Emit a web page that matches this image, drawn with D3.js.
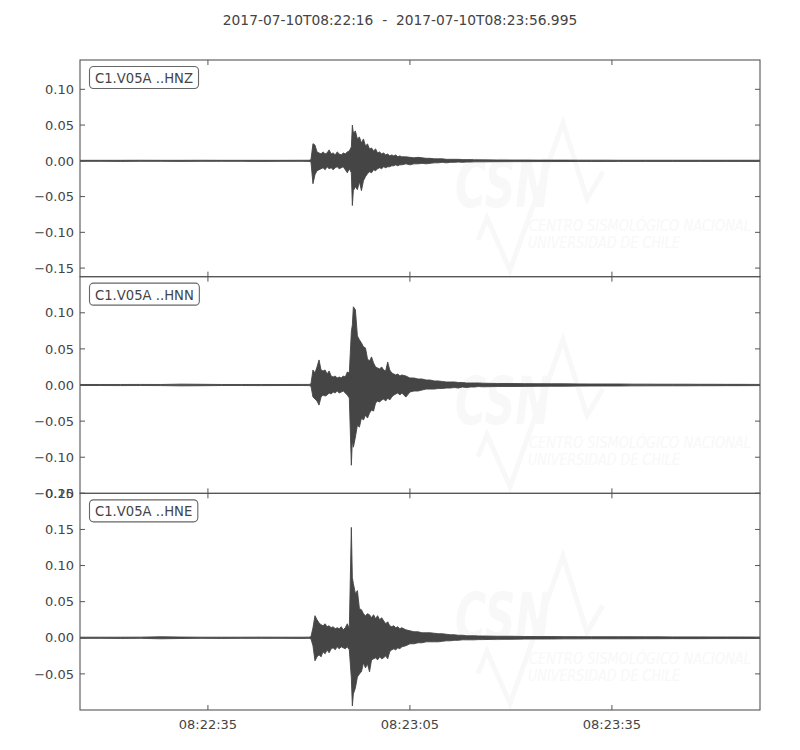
<!DOCTYPE html>
<html>
<head>
<meta charset="utf-8">
<script src="https://cdn.jsdelivr.net/npm/d3@7"></script>
<style>
  html, body { margin: 0; padding: 0; background: #fff; }
  svg { display: block; }
  text { font-family: "DejaVu Sans", sans-serif; fill: #444; }
</style>
</head>
<body>
<svg id="chart" width="800" height="750"></svg>
<script>
// ---------------- DATA ----------------
const titleText = "2017-07-10T08:22:16  -  2017-07-10T08:23:56.995";
const startTime = "2017-07-10T08:22:16.000Z";
const endTime = "2017-07-10T08:23:56.995Z";
const channels = ["C1.V05A ..HNZ", "C1.V05A ..HNN", "C1.V05A ..HNE"];
const xTickLabels = ["08:22:35", "08:23:05", "08:23:35"];
const xTickTimes = ["2017-07-10T08:22:35Z", "2017-07-10T08:23:05Z", "2017-07-10T08:23:35Z"];

// y ranges of each panel
const yDomainHNZ = [-0.162, 0.141];
const yDomainHNN = [-0.15, 0.15];
const yDomainHNE = [-0.10, 0.20];
const yTicksHNZ = [-0.15, -0.10, -0.05, 0.00, 0.05, 0.10];
const yTicksHNN = [-0.15, -0.10, -0.05, 0.00, 0.05, 0.10];
const yTicksHNE = [-0.05, 0.00, 0.05, 0.10, 0.15, 0.20];

// sample times (seconds after 08:22:16)
const times = [
  0, 3, 6, 9, 12, 15, 18, 21, 24, 27, 30, 33, 34.0,
  34.3, 34.6, 34.9, 35.2, 35.5, 35.8, 36.1, 36.4, 36.7, 37.0,
  37.3, 37.6, 37.9, 38.2, 38.5, 38.8, 39.1, 39.4, 39.7, 40.0,
  40.3, 40.45, 40.6, 40.9, 41.2, 41.5, 41.8, 42.1, 42.4, 42.7,
  43.0, 43.3, 43.6, 43.9, 44.2, 44.5, 44.8, 45.1, 45.4, 45.7,
  46.0, 46.3, 46.6, 46.9, 47.2, 47.5, 47.8,
  48.4, 49.0, 49.6, 50.2, 50.8, 51.4, 52.0, 52.6, 53.2, 53.8,
  54.4, 55.0, 55.6, 56.2, 56.8, 57.4, 58.0, 58.6, 59.2, 59.8,
  62, 64, 66, 68, 70, 72, 74, 76, 78, 80,
  82, 84, 86, 88, 90, 92, 94, 96, 98, 100.995
];

// upper / lower envelope of each trace
const hnzHi = [
  0.0007, 0.0007, 0.0007, 0.0008, 0.0007, 0.0007, 0.0008, 0.0007, 0.0007, 0.0007, 0.0007, 0.0008, 0.0008,
  0.0014, 0.024, 0.022, 0.0125, 0.011, 0.0097, 0.0125, 0.0097, 0.011, 0.0153,
  0.0097, 0.011, 0.0083, 0.0125, 0.0097, 0.0083, 0.011, 0.0097, 0.0125, 0.0139,
  0.0194, 0.050, 0.039, 0.0417, 0.0306, 0.0333, 0.025, 0.0306, 0.0208, 0.0236,
  0.0167, 0.018, 0.0139, 0.0167, 0.011, 0.0125, 0.0097, 0.011, 0.0083, 0.0097,
  0.0069, 0.0083, 0.0069, 0.0083, 0.0056, 0.0069, 0.0056,
  0.0056, 0.0049, 0.0042, 0.0049, 0.0042, 0.0035, 0.0035, 0.0028, 0.0028, 0.0028,
  0.0021, 0.0021, 0.0021, 0.0021, 0.0017, 0.0017, 0.0017, 0.0014, 0.0014, 0.0014,
  0.0012, 0.0011, 0.0011, 0.001, 0.001, 0.001, 0.0009, 0.0009, 0.0009, 0.0008,
  0.0008, 0.0008, 0.0008, 0.0008, 0.0008, 0.0008, 0.0008, 0.0008, 0.0008, 0.0008
];
const hnzLo = [
  -0.0007, -0.0007, -0.0008, -0.0007, -0.0007, -0.0008, -0.0007, -0.0007, -0.0007, -0.0008, -0.0007, -0.0007, -0.0008,
  -0.0014, -0.032, -0.0194, -0.0139, -0.0125, -0.011, -0.0097, -0.0125, -0.0083, -0.011,
  -0.0097, -0.0125, -0.0097, -0.0083, -0.011, -0.0097, -0.0083, -0.0125, -0.0167, -0.011,
  -0.0167, -0.0625, -0.0417, -0.0361, -0.0403, -0.0292, -0.0417, -0.0278, -0.0222, -0.018,
  -0.0153, -0.0167, -0.0125, -0.0139, -0.011, -0.0097, -0.011, -0.0083, -0.0097, -0.0083,
  -0.0083, -0.0069, -0.0069, -0.0056, -0.0069, -0.0056, -0.0056,
  -0.0042, -0.0056, -0.0042, -0.0042, -0.0035, -0.0042, -0.0035, -0.0028, -0.0028, -0.0021,
  -0.0028, -0.0021, -0.0021, -0.0017, -0.0021, -0.0017, -0.0017, -0.0014, -0.0014, -0.0014,
  -0.0012, -0.0011, -0.0011, -0.001, -0.001, -0.001, -0.0009, -0.0009, -0.0009, -0.0008,
  -0.0008, -0.0008, -0.0008, -0.0008, -0.0008, -0.0008, -0.0008, -0.0008, -0.0008, -0.0008
];

const hnnHi = [
  0.0007, 0.0007, 0.0007, 0.0008, 0.0007, 0.0012, 0.0010, 0.0007, 0.0007, 0.0007, 0.0007, 0.0008, 0.0008,
  0.0014, 0.0208, 0.0167, 0.025, 0.0347, 0.0208, 0.0194, 0.0208, 0.0153, 0.0194,
  0.0125, 0.011, 0.0125, 0.0097, 0.011, 0.0097, 0.0125, 0.011, 0.018, 0.0167,
  0.0736, 0.0833, 0.1083, 0.1042, 0.068, 0.0625, 0.0583, 0.0528, 0.0514, 0.0361,
  0.0333, 0.0389, 0.0306, 0.025, 0.0236, 0.0222, 0.025, 0.0208, 0.0194, 0.0319,
  0.0208, 0.0167, 0.0153, 0.0139, 0.0153, 0.0125, 0.0139,
  0.0125, 0.0097, 0.0097, 0.0083, 0.0083, 0.0069, 0.0069, 0.0056, 0.0056, 0.0049,
  0.0042, 0.0042, 0.0042, 0.0035, 0.0035, 0.0028, 0.0028, 0.0028, 0.0028, 0.0025,
  0.0021, 0.0021, 0.0019, 0.0018, 0.0017, 0.0017, 0.0015, 0.0014, 0.0014, 0.0014,
  0.0012, 0.0012, 0.0011, 0.0011, 0.0011, 0.001, 0.001, 0.0009, 0.0009, 0.0008
];
const hnnLo = [
  -0.0007, -0.0007, -0.0008, -0.0007, -0.0008, -0.0012, -0.0010, -0.0007, -0.0007, -0.0008, -0.0007, -0.0007, -0.0008,
  -0.0014, -0.0167, -0.0194, -0.0222, -0.0278, -0.0167, -0.0139, -0.0153, -0.0139, -0.011,
  -0.0125, -0.0097, -0.011, -0.0083, -0.011, -0.0097, -0.0083, -0.011, -0.0139, -0.018,
  -0.1111, -0.0764, -0.0861, -0.0722, -0.0556, -0.0583, -0.0458, -0.0486, -0.0417, -0.0458,
  -0.0389, -0.0347, -0.0361, -0.025, -0.0222, -0.0236, -0.0208, -0.0194, -0.0222, -0.018,
  -0.0208, -0.0167, -0.0139, -0.0125, -0.011, -0.0139, -0.011,
  -0.0167, -0.0097, -0.0083, -0.0083, -0.0069, -0.0056, -0.0056, -0.0056, -0.0049, -0.0049,
  -0.0042, -0.0042, -0.0035, -0.0042, -0.0028, -0.0035, -0.0028, -0.0028, -0.0021, -0.0025,
  -0.0021, -0.0021, -0.0019, -0.0018, -0.0017, -0.0017, -0.0015, -0.0014, -0.0014, -0.0014,
  -0.0012, -0.0012, -0.0011, -0.0011, -0.0011, -0.001, -0.001, -0.0009, -0.0009, -0.0008
];

const hneHi = [
  0.0008, 0.0008, 0.0008, 0.0009, 0.0014, 0.0010, 0.0008, 0.0008, 0.0008, 0.0009, 0.0008, 0.0008, 0.0009,
  0.0014, 0.0139, 0.0306, 0.025, 0.0208, 0.018, 0.0167, 0.0194, 0.0153, 0.0167,
  0.0139, 0.0153, 0.0125, 0.0139, 0.0125, 0.0153, 0.011, 0.0139, 0.0194, 0.0125,
  0.1528, 0.0833, 0.075, 0.0611, 0.0653, 0.0403, 0.0389, 0.0333, 0.0306, 0.0333,
  0.0319, 0.0278, 0.0319, 0.0264, 0.0306, 0.025, 0.0278, 0.0236, 0.0194, 0.0222,
  0.0167, 0.0153, 0.0167, 0.0139, 0.0153, 0.0125, 0.0139,
  0.011, 0.0097, 0.0083, 0.0083, 0.0069, 0.0069, 0.0069, 0.0063, 0.0056, 0.0056,
  0.0049, 0.0042, 0.0042, 0.0035, 0.0035, 0.0028, 0.0028, 0.0028, 0.0025, 0.0025,
  0.0021, 0.0021, 0.0018, 0.0017, 0.0017, 0.0015, 0.0015, 0.0014, 0.0014, 0.0014,
  0.0014, 0.0013, 0.0013, 0.0012, 0.0012, 0.0012, 0.0011, 0.0011, 0.0011, 0.0010
];
const hneLo = [
  -0.0008, -0.0008, -0.0009, -0.0008, -0.0014, -0.0010, -0.0008, -0.0009, -0.0008, -0.0008, -0.0008, -0.0009, -0.0008,
  -0.0014, -0.011, -0.0319, -0.0264, -0.0236, -0.0264, -0.0194, -0.0222, -0.0167, -0.0208,
  -0.0153, -0.0139, -0.0167, -0.0125, -0.0153, -0.0125, -0.0139, -0.0153, -0.0125, -0.0167,
  -0.0556, -0.0944, -0.0778, -0.0694, -0.0542, -0.05, -0.0472, -0.0347, -0.0417, -0.0361,
  -0.0472, -0.0306, -0.0292, -0.0278, -0.0306, -0.0264, -0.0292, -0.0278, -0.025, -0.0292,
  -0.0194, -0.0167, -0.0153, -0.0167, -0.0139, -0.0153, -0.0125,
  -0.011, -0.0083, -0.0083, -0.0069, -0.0069, -0.0056, -0.0056, -0.0056, -0.0056, -0.0049,
  -0.0042, -0.0042, -0.0035, -0.0035, -0.0028, -0.0028, -0.0028, -0.0028, -0.0025, -0.0025,
  -0.0021, -0.0021, -0.0018, -0.0017, -0.0017, -0.0015, -0.0015, -0.0014, -0.0014, -0.0014,
  -0.0014, -0.0013, -0.0013, -0.0012, -0.0012, -0.0012, -0.0011, -0.0011, -0.0011, -0.0010
];

// ---------------- DRAWING ----------------
const svg = d3.select("#chart");
const W = 800;
const left = 80, right = 760;
const panelTops = [60, 276.67, 493.33];
const panelH = 216.67;
const traceColor = "#454545";
const frameColor = "#555";
const wmColor = "#f8f8f8";

const t0 = new Date(startTime);
const t1 = new Date(endTime);
const x = d3.scaleUtc().domain([t0, t1]).range([left, right]);
const tAt = s => new Date(t0.getTime() + s * 1000);

svg.append("text")
  .attr("x", W / 2).attr("y", 25)
  .attr("text-anchor", "middle")
  .attr("font-size", 13.8)
  .style("white-space", "pre")
  .attr("xml:space", "preserve")
  .text(titleText);

const panels = [
  { name: channels[0], hi: hnzHi, lo: hnzLo, domain: yDomainHNZ, ticks: yTicksHNZ },
  { name: channels[1], hi: hnnHi, lo: hnnLo, domain: yDomainHNN, ticks: yTicksHNN },
  { name: channels[2], hi: hneHi, lo: hneLo, domain: yDomainHNE, ticks: yTicksHNE }
];

const fmtY = v => {
  const s = d3.format(".2f")(Math.abs(v));
  return (v < -1e-9 ? "\u2212" : "") + s;
};

panels.forEach((p, i) => {
  const top = panelTops[i];
  const bottom = top + panelH;
  const y = d3.scaleLinear().domain(p.domain).range([bottom, top]);
  const g = svg.append("g");

  const clipId = "clip" + i;
  svg.append("clipPath").attr("id", clipId)
    .append("rect").attr("x", left).attr("y", top).attr("width", right - left).attr("height", panelH);

  // watermark (very faint CSN logo)
  const wm = g.append("g").attr("clip-path", `url(#${clipId})`);
  const wy = top - 60;
  wm.append("text")
    .attr("x", 455).attr("y", wy + 207)
    .attr("font-size", 66).attr("font-weight", "bold").attr("font-style", "italic")
    .attr("font-family", "Liberation Sans, sans-serif")
    .attr("textLength", 96).attr("lengthAdjust", "spacingAndGlyphs")
    .style("fill", wmColor)
    .text("CSN");
  wm.append("path")
    .attr("d", `M478,${wy + 240} L487,${wy + 218} L510,${wy + 270} L563,${wy + 123} L587,${wy + 199} L603,${wy + 172}`)
    .attr("fill", "none").attr("stroke", wmColor).attr("stroke-width", 5);
  wm.append("text")
    .attr("x", 529).attr("y", wy + 231)
    .attr("font-size", 15).attr("font-style", "italic")
    .attr("font-family", "Liberation Sans Narrow, Liberation Sans, sans-serif")
    .attr("textLength", 222).attr("lengthAdjust", "spacingAndGlyphs")
    .style("fill", wmColor)
    .text("CENTRO SISMOLÓGICO NACIONAL");
  wm.append("text")
    .attr("x", 528).attr("y", wy + 248)
    .attr("font-size", 15).attr("font-style", "italic")
    .attr("font-family", "Liberation Sans Narrow, Liberation Sans, sans-serif")
    .attr("textLength", 152).attr("lengthAdjust", "spacingAndGlyphs")
    .style("fill", wmColor)
    .text("UNIVERSIDAD DE CHILE");

  // trace
  const data = times.map((t, k) => ({ t: tAt(t), hi: p.hi[k], lo: p.lo[k] }));
  const area = d3.area()
    .x(d => x(d.t))
    .y0(d => y(d.lo))
    .y1(d => y(d.hi));
  g.append("path")
    .datum(data)
    .attr("clip-path", `url(#${clipId})`)
    .attr("d", area)
    .attr("fill", traceColor)
    .attr("stroke", traceColor)
    .attr("stroke-width", 0.9)
    .attr("stroke-linejoin", "round");

  // frame
  g.append("rect")
    .attr("x", left).attr("y", top).attr("width", right - left).attr("height", panelH)
    .attr("fill", "none").attr("stroke", frameColor).attr("stroke-width", 1.1);

  // y ticks (inward, both sides) and labels
  const yt = g.append("g");
  p.ticks.forEach(v => {
    const yy = y(v);
    yt.append("line").attr("x1", left).attr("x2", left + 5).attr("y1", yy).attr("y2", yy)
      .attr("stroke", frameColor);
    yt.append("line").attr("x1", right - 5).attr("x2", right).attr("y1", yy).attr("y2", yy)
      .attr("stroke", frameColor);
    yt.append("text")
      .attr("x", left - 6).attr("y", yy)
      .attr("dy", "0.36em")
      .attr("text-anchor", "end")
      .attr("font-size", 13)
      .text(fmtY(v));
  });

  // x ticks (inward, top and bottom)
  xTickTimes.forEach(s => {
    const xx = x(new Date(s));
    g.append("line").attr("x1", xx).attr("x2", xx).attr("y1", bottom).attr("y2", bottom - 5)
      .attr("stroke", frameColor);
    g.append("line").attr("x1", xx).attr("x2", xx).attr("y1", top).attr("y2", top + 5)
      .attr("stroke", frameColor);
  });

  // channel label box
  const lab = g.append("g");
  const txt = lab.append("text")
    .attr("x", 95).attr("y", top + 23)
    .attr("font-size", 13.2)
    .text(p.name);
  const w = txt.node().getComputedTextLength();
  lab.insert("rect", "text")
    .attr("x", 89.5).attr("y", top + 6.5)
    .attr("width", w + 11).attr("height", 22)
    .attr("rx", 4).attr("ry", 4)
    .attr("fill", "#fff").attr("stroke", "#666").attr("stroke-width", 1.1);
});

// bottom time labels
const lastBottom = panelTops[2] + panelH;
xTickTimes.forEach((s, k) => {
  svg.append("text")
    .attr("x", x(new Date(s))).attr("y", lastBottom + 14)
    .attr("dy", "0.35em")
    .attr("text-anchor", "middle")
    .attr("font-size", 13)
    .text(xTickLabels[k]);
});
</script>
</body>
</html>
